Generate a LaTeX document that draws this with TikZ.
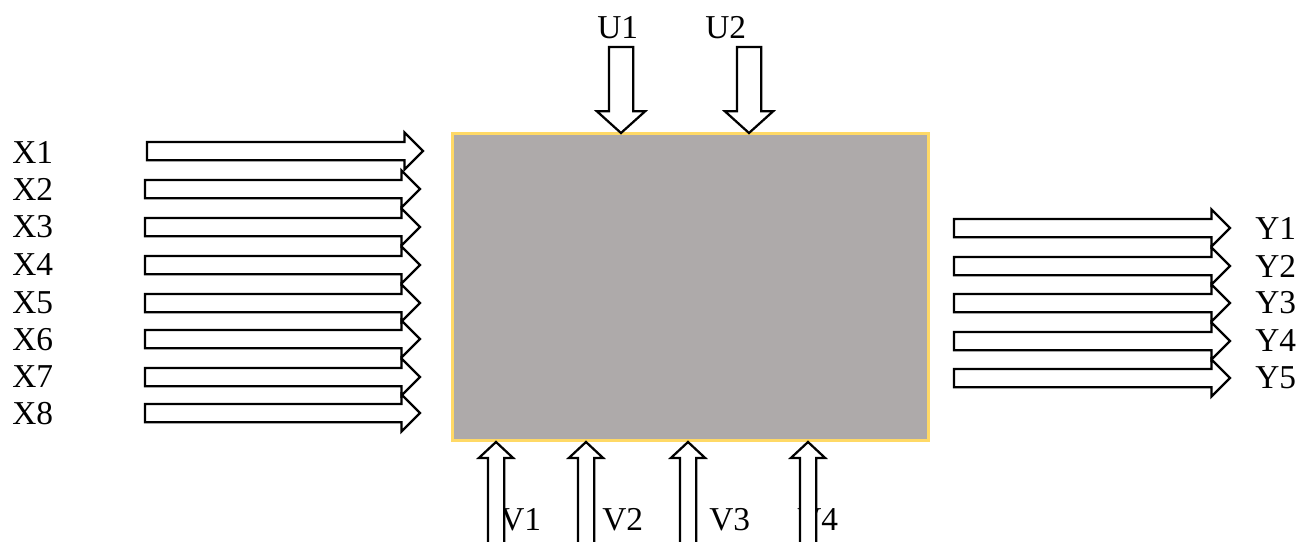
\documentclass[tikz,border=0pt]{standalone}
\usepackage{fontspec}
\setmainfont{Liberation Serif}
\usepackage{tikz}
\usetikzlibrary{shapes.arrows}
\definecolor{plantgray}{HTML}{AEAAAA}
\definecolor{plantedge}{HTML}{FFD966}
\tikzset{
  plantbox/.style={draw=plantedge,fill=plantgray,line width=0.06cm,minimum width=9.54cm,minimum height=6.16cm,inner sep=0pt,outer sep=0pt},
  sidearrow/.style={single arrow,draw,fill=white,line width=0.045cm,inner sep=0.16cm,outer sep=0pt,single arrow tip angle=90,minimum width=0.7cm,single arrow head extend=0.19cm,minimum height=5.5cm,anchor=tip},
  toparrow/.style={single arrow,draw,fill=white,line width=0.045cm,inner sep=0.22cm,outer sep=0pt,single arrow tip angle=96,minimum width=0.92cm,single arrow head extend=0.24cm,minimum height=1.72cm,shape border rotate=270,anchor=tip},
  botarrow/.style={single arrow,draw,fill=white,line width=0.045cm,inner sep=0.14cm,outer sep=0pt,single arrow tip angle=94,minimum width=0.64cm,single arrow head extend=0.18cm,minimum height=2.06cm,shape border rotate=90,anchor=tip},
  varlabel/.style={font=\fontsize{19}{22}\selectfont,inner sep=0pt,anchor=west}
}
\begin{document}
\begin{tikzpicture}[x=0.02cm,y=-0.02cm]
\useasboundingbox (0,0) rectangle (1301,541);
\node[plantbox] (plant) at (690.5,287) {};
% inputs X
\node[varlabel] (x1) at (12,152) {X1};
\node[varlabel] (x2) at (12,189) {X2};
\node[varlabel] (x3) at (12,227) {X3};
\node[varlabel] (x4) at (12,265) {X4};
\node[varlabel] (x5) at (12,303) {X5};
\node[varlabel] (x6) at (12,340) {X6};
\node[varlabel] (x7) at (12,377) {X7};
\node[varlabel] (x8) at (12,414) {X8};
\node[sidearrow,minimum height=5.52cm] (x1arrow) at (423,151) {};
\node[sidearrow] (x2arrow) at (420,189) {};
\node[sidearrow] (x3arrow) at (420,227) {};
\node[sidearrow] (x4arrow) at (420,265) {};
\node[sidearrow] (x5arrow) at (420,303) {};
\node[sidearrow] (x6arrow) at (420,339) {};
\node[sidearrow] (x7arrow) at (420,377) {};
\node[sidearrow] (x8arrow) at (420,413) {};
% outputs Y
\node[sidearrow,minimum height=5.52cm] (y1arrow) at (1230,228) {};
\node[sidearrow,minimum height=5.52cm] (y2arrow) at (1230,266) {};
\node[sidearrow,minimum height=5.52cm] (y3arrow) at (1230,303) {};
\node[sidearrow,minimum height=5.52cm] (y4arrow) at (1230,341) {};
\node[sidearrow,minimum height=5.52cm] (y5arrow) at (1230,378) {};
\node[varlabel] (y1) at (1255,228) {Y1};
\node[varlabel] (y2) at (1255,266) {Y2};
\node[varlabel] (y3) at (1255,303) {Y3};
\node[varlabel] (y4) at (1255,341) {Y4};
\node[varlabel] (y5) at (1255,378) {Y5};
% controls U
\node[varlabel] (u1) at (597,28) {U1};
\node[varlabel] (u2) at (705,28) {U2};
\node[toparrow] (u1arrow) at (621,133) {};
\node[toparrow] (u2arrow) at (749,133) {};
% disturbances V
\node[varlabel] (v1) at (500,520) {V1};
\node[varlabel] (v2) at (602,520) {V2};
\node[varlabel] (v3) at (709,520) {V3};
\node[varlabel] (v4) at (797,520) {V4};
\node[botarrow] (v1arrow) at (496,442) {};
\node[botarrow] (v2arrow) at (586,442) {};
\node[botarrow] (v3arrow) at (688,442) {};
\node[botarrow] (v4arrow) at (808,442) {};
\end{tikzpicture}
\end{document}
